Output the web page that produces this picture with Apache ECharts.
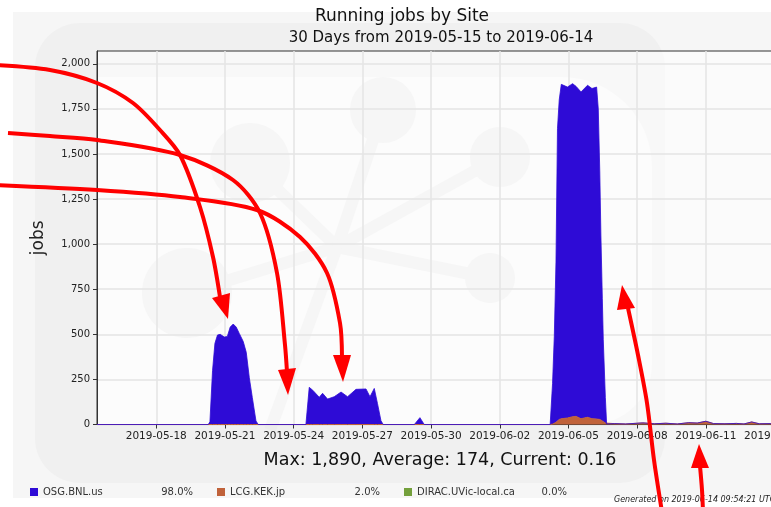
<!DOCTYPE html>
<html>
<head>
<meta charset="utf-8">
<title>Running jobs by Site</title>
<script src="https://cdn.jsdelivr.net/npm/echarts@6.0.0/dist/echarts.min.js"></script>
<style>
  html, body { margin: 0; padding: 0; background: #fff; }
  #main { width: 771px; height: 507px; }
</style>
</head>
<body>
<div id="main"></div>
<script>
// sample times shared by the stacked sites (stacking on a time axis goes by index)
var times = [
  '2019-05-15 09:54', '2019-05-20 06:30', '2019-05-20 08:15', '2019-05-20 11:00', '2019-05-20 13:30',
  '2019-05-20 16:10', '2019-05-20 19:00', '2019-05-20 23:20', '2019-05-21 02:30', '2019-05-21 05:30',
  '2019-05-21 08:40', '2019-05-21 11:50', '2019-05-21 15:00', '2019-05-21 19:10', '2019-05-21 22:20',
  '2019-05-22 01:30', '2019-05-22 04:40', '2019-05-22 08:30', '2019-05-22 10:50',
  '2019-05-24 12:50', '2019-05-24 16:20', '2019-05-24 20:00', '2019-05-25 02:50', '2019-05-25 06:20',
  '2019-05-25 11:30', '2019-05-25 18:30', '2019-05-26 01:40', '2019-05-26 08:30', '2019-05-26 17:20',
  '2019-05-27 03:50', '2019-05-27 08:00', '2019-05-27 12:30', '2019-05-27 15:50', '2019-05-27 19:30',
  '2019-05-27 21:50',
  '2019-05-29 06:30', '2019-05-29 12:20', '2019-05-29 16:50',
  '2019-06-04 04:50', '2019-06-04 07:20', '2019-06-04 09:10', '2019-06-04 10:55', '2019-06-04 12:30',
  '2019-06-04 14:20', '2019-06-04 16:30', '2019-06-04 23:00', '2019-06-05 04:20', '2019-06-05 07:55',
  '2019-06-05 13:10', '2019-06-05 20:00', '2019-06-06 00:40', '2019-06-06 05:30', '2019-06-06 07:15',
  '2019-06-06 08:50', '2019-06-06 10:00', '2019-06-06 11:30', '2019-06-06 12:30', '2019-06-06 14:40',
  '2019-06-06 16:00',
  '2019-06-07 00:00', '2019-06-07 12:00', '2019-06-08 06:00', '2019-06-08 18:00', '2019-06-09 06:00',
  '2019-06-09 18:00', '2019-06-10 06:00', '2019-06-10 15:00', '2019-06-11 00:00', '2019-06-11 08:00',
  '2019-06-11 20:00', '2019-06-12 08:00', '2019-06-12 16:00', '2019-06-13 00:00', '2019-06-13 08:00',
  '2019-06-13 20:00', '2019-06-14 06:00', '2019-06-14 09:54'
];

var osgBnl = [
  0, 0, 15, 300, 450, 496, 500, 485, 488, 540, 557, 540, 505, 460, 400, 260, 150, 20, 0,
  0, 206, 190, 151, 173, 141, 154, 180, 154, 195, 197, 154, 200, 117, 21, 0,
  0, 38, 0,
  0, 226, 485, 888, 1620, 1772, 1854, 1835, 1847, 1830, 1812, 1841, 1831, 1841, 1720, 1372, 1025, 680, 455, 142, 0,
  0, 0, 0, 0, 0, 0, 0, 0, 0, 0, 0, 0, 0, 0, 0, 0, 0, 0.16
];

var lcgKek = [
  0, 0, 0, 0, 0, 0, 0, 0, 0, 0, 0, 0, 0, 0, 0, 0, 0, 0, 0,
  0, 0, 0, 0, 0, 0, 0, 0, 0, 0, 0, 0, 0, 0, 0, 0,
  0, 0, 0,
  0, 2, 5, 12, 20, 28, 32, 36, 43, 45, 32, 40, 32, 30, 30, 28, 25, 20, 15, 8, 3,
  5, 3, 9, 4, 7, 3, 10, 8, 18, 5, 4, 6, 3, 14, 4, 5, 3, 0
];

var diracTimes = ['2019-05-15 09:54', '2019-06-14 09:54'];
var diracUvic = [0, 0];

var siteNames = ['OSG.BNL.us', 'LCG.KEK.jp', 'DIRAC.UVic-local.ca'];
var siteShares = ['98.0%', '2.0%', '0.0%'];
var siteColors = ['#2e0bd6', '#c0623a', '#74a03c'];

var xTickDates = ['2019-05-18', '2019-05-21', '2019-05-24', '2019-05-27', '2019-05-30',
                  '2019-06-02', '2019-06-05', '2019-06-08', '2019-06-11', '2019-06-14'];
var yTicks = [0, 250, 500, 750, 1000, 1250, 1500, 1750, 2000];

var startTime = '2019-05-15 09:54';
var endTime = '2019-06-14 09:54';

var font = 'DejaVu Sans';
var ts = function (s) { return +echarts.number.parseDate(s); };

function pairs(tt, vals) {
  return tt.map(function (t, i) { return [ts(t), vals[i]]; });
}

var myChart = echarts.init(document.getElementById('main'));

// red annotation arrows drawn over the picture
var red = '#ff0000';
function arrowLine(points) {
  return { type: 'polyline', z: 50, shape: { points: points, smooth: 0.3 },
           style: { stroke: red, lineWidth: 4, fill: null } };
}
function arrowHead(points) {
  return { type: 'polygon', z: 50, shape: { points: points }, style: { fill: red } };
}

var watermark = '#ececec';
var graphics = [
  { type: 'rect', z: -10, shape: { x: 13, y: 12, width: 758, height: 486 }, style: { fill: '#f6f6f6' } },
  { type: 'rect', z: -9, shape: { x: 35, y: 23, width: 630, height: 460, r: 45 }, style: { fill: '#f0f0f0' } },
  { type: 'rect', z: -8, shape: { x: 97, y: 77, width: 555, height: 347, r: [0, 90, 60, 0] }, style: { fill: '#f8f8f8' } },
  { type: 'line', z: -7, shape: { x1: 337, y1: 247, x2: 383, y2: 110 }, style: { stroke: watermark, lineWidth: 12 } },
  { type: 'line', z: -7, shape: { x1: 337, y1: 247, x2: 500, y2: 157 }, style: { stroke: watermark, lineWidth: 12 } },
  { type: 'line', z: -7, shape: { x1: 337, y1: 247, x2: 490, y2: 278 }, style: { stroke: watermark, lineWidth: 12 } },
  { type: 'line', z: -7, shape: { x1: 337, y1: 247, x2: 250, y2: 163 }, style: { stroke: watermark, lineWidth: 12 } },
  { type: 'line', z: -7, shape: { x1: 337, y1: 247, x2: 187, y2: 293 }, style: { stroke: watermark, lineWidth: 12 } },
  { type: 'line', z: -7, shape: { x1: 337, y1: 247, x2: 270, y2: 430 }, style: { stroke: watermark, lineWidth: 12 } },
  { type: 'circle', z: -7, shape: { cx: 383, cy: 110, r: 33 }, style: { fill: watermark } },
  { type: 'circle', z: -7, shape: { cx: 500, cy: 157, r: 30 }, style: { fill: watermark } },
  { type: 'circle', z: -7, shape: { cx: 490, cy: 278, r: 25 }, style: { fill: watermark } },
  { type: 'circle', z: -7, shape: { cx: 250, cy: 163, r: 40 }, style: { fill: watermark } },
  { type: 'circle', z: -7, shape: { cx: 187, cy: 293, r: 45 }, style: { fill: watermark } },

  { type: 'text', z: 10, x: 402, y: 8,
    style: { text: 'Running jobs by Site', fill: '#111', fontSize: 17, fontFamily: font, align: 'center', textAlign: 'center' } },
  { type: 'text', z: 10, x: 441, y: 31,
    style: { text: '30 Days from 2019-05-15 to 2019-06-14', fill: '#111', fontSize: 15, fontFamily: font, align: 'center', textAlign: 'center' } },
  { type: 'text', z: 10, x: 440, y: 451,
    style: { text: 'Max: 1,890, Average: 174, Current: 0.16', fill: '#111', fontSize: 17.5, fontFamily: font, align: 'center', textAlign: 'center' } },
  { type: 'text', z: 10, x: 614, y: 496,
    style: { text: 'Generated on 2019-06-14 09:54:21 UTC', fill: '#222', fontSize: 8, fontStyle: 'italic', fontFamily: font } },

  arrowLine([[-5, 65], [50, 70], [97, 83], [133, 103], [160, 130], [180, 155], [200, 207], [213, 257], [220, 297]]),
  arrowHead([[212, 298], [230, 293], [228, 319]]),
  arrowLine([[8, 133], [50, 136], [97, 140], [180, 155], [233, 180], [260, 213], [277, 273], [285, 345], [287, 372]]),
  arrowHead([[278, 370], [296, 368], [288, 395]]),
  arrowLine([[-5, 185], [97, 190], [180, 197], [257, 210], [300, 237], [327, 273], [340, 323], [342, 357]]),
  arrowHead([[333, 355], [351, 355], [343, 382]]),
  arrowLine([[662, 512], [654, 460], [647, 403], [638, 355], [628, 308]]),
  arrowHead([[617, 310], [635, 308], [622, 285]]),
  arrowLine([[703, 512], [702, 490], [700, 466]]),
  arrowHead([[691, 468], [709, 468], [699, 444]])
];

myChart.setOption({
  animation: false,
  backgroundColor: '#ffffff',
  textStyle: { fontFamily: font },
  grid: {
    left: 97, right: -13, top: 51, bottom: 82.5,
    outerBoundsMode: 'none', containLabel: false,
    show: true, backgroundColor: 'rgba(255,255,255,0.5)', borderColor: '#333', borderWidth: 1
  },
  legend: {
    data: siteNames,
    left: 25, top: 482,
    icon: 'rect', itemWidth: 8, itemHeight: 8, itemGap: 24,
    formatter: function (name) {
      return '{n|' + name + '}{p|' + siteShares[siteNames.indexOf(name)] + '}';
    },
    textStyle: {
      color: '#333', fontSize: 10,
      rich: { n: { width: 123, fontSize: 10, color: '#333' }, p: { width: 27, align: 'right', fontSize: 10, color: '#333' } }
    }
  },
  xAxis: [
    {
      // time axis that carries the data
      type: 'time', position: 'bottom',
      min: ts(startTime), max: ts(endTime),
      axisLine: { show: false }, axisTick: { show: false }, axisLabel: { show: false }, splitLine: { show: false }
    },
    {
      // same span, used for the 3-day ticks, labels and grid lines
      type: 'value', position: 'bottom', offset: 0,
      min: ts(startTime), max: ts(endTime),
      axisLine: { show: true, lineStyle: { color: '#333', width: 1 } },
      axisTick: { show: true, length: 4, customValues: xTickDates.map(ts), lineStyle: { color: '#333' } },
      axisLabel: {
        customValues: xTickDates.map(ts), color: '#222', fontSize: 10.5, margin: 6,
        formatter: function (v) { return echarts.time.format(v, '{yyyy}-{MM}-{dd}', false); }
      },
      splitLine: { show: true, lineStyle: { color: '#e4e4e4', width: 1.5 } }
    }
  ],
  yAxis: {
    type: 'value',
    min: 0, max: 2071,
    name: 'jobs', nameLocation: 'middle', nameGap: 50,
    nameTextStyle: { fontSize: 17, color: '#222' },
    axisLine: { show: true, lineStyle: { color: '#333', width: 1 } },
    axisTick: { show: true, length: 4, customValues: yTicks, lineStyle: { color: '#333' } },
    axisLabel: {
      customValues: yTicks, color: '#222', fontSize: 10, margin: 7,
      formatter: function (v) { return v.toLocaleString('en-US'); }
    },
    splitLine: { show: true, lineStyle: { color: '#e4e4e4', width: 1.5 } }
  },
  graphic: graphics,
  series: [
    {
      name: siteNames[1], type: 'line', stack: 'jobs', symbol: 'none', z: 3, xAxisIndex: 0,
      data: pairs(times, lcgKek), color: siteColors[1],
      lineStyle: { width: 1, color: siteColors[1] }, areaStyle: { color: siteColors[1], opacity: 1 }
    },
    {
      name: siteNames[0], type: 'line', stack: 'jobs', symbol: 'none', z: 3, xAxisIndex: 0,
      data: pairs(times, osgBnl), color: siteColors[0],
      lineStyle: { width: 0.8, color: siteColors[0] }, areaStyle: { color: siteColors[0], opacity: 1 }
    },
    {
      name: siteNames[2], type: 'line', symbol: 'none', z: 3, xAxisIndex: 0,
      data: pairs(diracTimes, diracUvic), color: siteColors[2],
      lineStyle: { width: 0 }, areaStyle: { color: siteColors[2], opacity: 1 }
    }
  ]
});
</script>
</body>
</html>
